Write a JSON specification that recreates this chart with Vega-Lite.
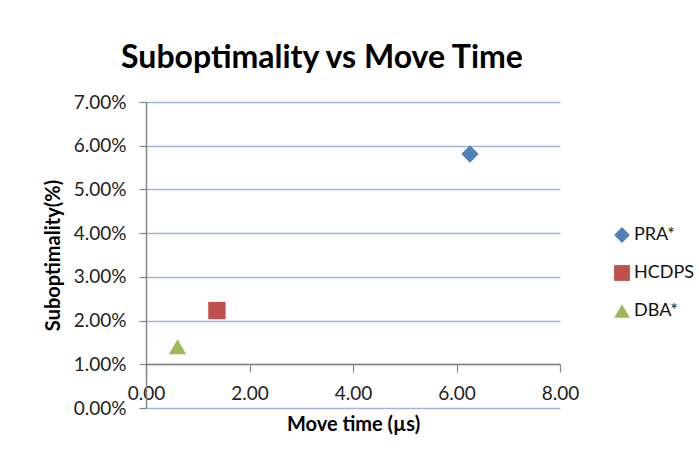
{
  "$schema": "https://vega.github.io/schema/vega-lite/v6.json",
  "autosize": "none",
  "width": 414,
  "height": 306,
  "padding": {"left": 146, "top": 102, "right": 139, "bottom": 54},
  "background": "white",
  "title": {
    "text": "Suboptimality  vs Move Time",
    "font": "Lato",
    "fontSize": 32,
    "fontWeight": "bold",
    "color": "#000000",
    "anchor": "middle",
    "dx": -31,
    "offset": 18
  },
  "data": {
    "values": [
      {"algorithm": "PRA*", "move_time": 6.26, "suboptimality": 0.0581},
      {"algorithm": "HCDPS", "move_time": 1.37, "suboptimality": 0.0223},
      {"algorithm": "DBA*", "move_time": 0.61, "suboptimality": 0.0140}
    ]
  },
  "mark": {"type": "point", "filled": true, "opacity": 1, "size": 300},
  "encoding": {
    "x": {
      "field": "move_time",
      "type": "quantitative",
      "scale": {"domain": [0, 8], "nice": false, "zero": true},
      "axis": {
        "title": "Move time (µs)",
        "values": [0, 2, 4, 6, 8],
        "format": ".2f",
        "offset": -44,
        "grid": false,
        "domainColor": "#868686",
        "domainWidth": 1.5,
        "tickColor": "#868686",
        "tickWidth": 1.2,
        "tickSize": 8,
        "labelPadding": 12,
        "labelFont": "Lato",
        "labelFontSize": 19,
        "labelColor": "#222222",
        "labelFlush": false,
        "titleFont": "Lato",
        "titleFontSize": 20,
        "titleFontWeight": "bold",
        "titleColor": "#000000",
        "titlePadding": 11
      }
    },
    "y": {
      "field": "suboptimality",
      "type": "quantitative",
      "scale": {"domain": [0, 0.07], "nice": false, "zero": true},
      "axis": {
        "title": "Suboptimality(%)",
        "values": [0, 0.01, 0.02, 0.03, 0.04, 0.05, 0.06, 0.07],
        "format": ".2%",
        "grid": true,
        "gridColor": "#9DB7E0",
        "gridWidth": 1.5,
        "domainColor": "#868686",
        "domainWidth": 1.5,
        "tickColor": "#868686",
        "tickWidth": 1.2,
        "tickSize": 7,
        "labelPadding": 13,
        "labelFont": "Lato",
        "labelFontSize": 19,
        "labelColor": "#222222",
        "labelFlush": false,
        "titleFont": "Lato",
        "titleFontSize": 20,
        "titleFontWeight": "bold",
        "titleColor": "#000000",
        "titlePadding": 10
      }
    },
    "color": {
      "field": "algorithm",
      "type": "nominal",
      "scale": {"domain": ["PRA*", "HCDPS", "DBA*"], "range": ["#4F81BD", "#C0504D", "#9BBB59"]},
      "legend": {
        "title": null,
        "orient": "none",
        "legendX": 467,
        "legendY": 124,
        "padding": 0,
        "rowPadding": 20,
        "symbolSize": 250,
        "symbolStrokeWidth": 0,
        "symbolOpacity": 1,
        "labelFont": "Lato",
        "labelFontSize": 18,
        "labelColor": "#111111",
        "labelOffset": 3
      }
    },
    "shape": {
      "field": "algorithm",
      "type": "nominal",
      "scale": {"domain": ["PRA*", "HCDPS", "DBA*"], "range": ["diamond", "square", "triangle-up"]}
    }
  },
  "config": {
    "view": {"stroke": null},
    "axis": {"gridCap": "butt"}
  }
}
